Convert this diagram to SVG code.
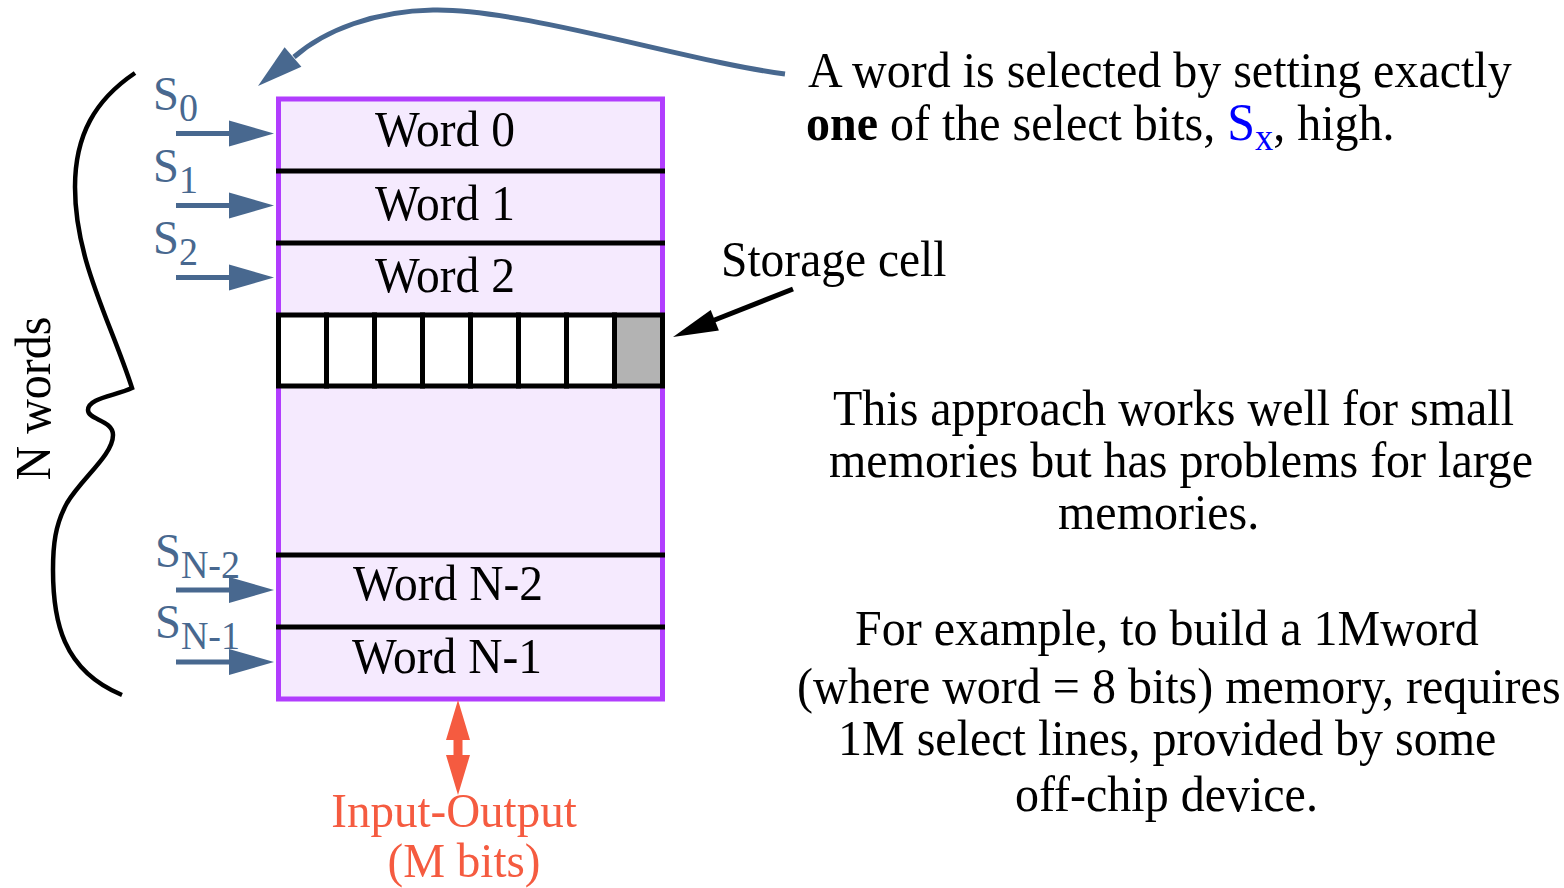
<svg xmlns="http://www.w3.org/2000/svg" width="1564" height="888" viewBox="0 0 1564 888">
  <style>
    text { font-family: "Liberation Serif", "Times New Roman", serif; font-size: 50px; fill: #000; }
    .sel { fill: #48688f; font-size: 49px; }
    .sub { font-size: 40px; }
    .io { fill: #f55b40; font-size: 49px; }
    .divider { stroke: #000; stroke-width: 5; }
    .cell { fill: #fff; stroke: #000; stroke-width: 5; }
    .wire { stroke: #48688f; stroke-width: 5; fill: none; }
    .head { fill: #48688f; }
  </style>

  <!-- curly brace grouping the N words -->
  <g id="brace">
    <path d="M135,73 C95,100 75,135 75,187 C75,260 110,320 132,388 C115,396 88,398 88,410 C88,420 113,420 113,435 C113,455 82,478 67,503 C55,525 53,545 53,570 C53,620 62,670 122,695" fill="none" stroke="#000" stroke-width="4.5"/>
    <text transform="translate(50,398.5) rotate(-90) scale(0.96 1)" text-anchor="middle">N words</text>
  </g>

  <!-- memory array -->
  <g id="memory">
    <rect x="278.5" y="99" width="384" height="600" fill="#f5eafe" stroke="#b13dfe" stroke-width="5"/>
    <line class="divider" x1="276" y1="171" x2="665" y2="171"/>
    <line class="divider" x1="276" y1="243" x2="665" y2="243"/>
    <line class="divider" x1="276" y1="555" x2="665" y2="555"/>
    <line class="divider" x1="276" y1="627" x2="665" y2="627"/>
  </g>

  <g id="word0"><text transform="translate(445,146) scale(0.95 1)" text-anchor="middle">Word 0</text></g>
  <g id="word1"><text transform="translate(445,220) scale(0.95 1)" text-anchor="middle">Word 1</text></g>
  <g id="word2"><text transform="translate(445,292) scale(0.95 1)" text-anchor="middle">Word 2</text></g>

  <!-- one word broken into its storage cells -->
  <g id="cells">
    <rect class="cell" x="278.5" y="315" width="48" height="71"/>
    <rect class="cell" x="326.5" y="315" width="48" height="71"/>
    <rect class="cell" x="374.5" y="315" width="48" height="71"/>
    <rect class="cell" x="422.5" y="315" width="48" height="71"/>
    <rect class="cell" x="470.5" y="315" width="48" height="71"/>
    <rect class="cell" x="518.5" y="315" width="48" height="71"/>
    <rect class="cell" x="566.5" y="315" width="48" height="71"/>
    <rect class="cell" x="614.5" y="315" width="48" height="71" style="fill:#b3b3b3"/>
  </g>

  <g id="wordN2"><text transform="translate(448,600) scale(0.95 1)" text-anchor="middle">Word N-2</text></g>
  <g id="wordN1"><text transform="translate(447,673) scale(0.95 1)" text-anchor="middle">Word N-1</text></g>

  <!-- select line labels -->
  <g id="select-labels">
    <text class="sel" transform="translate(153,110) scale(0.95 1)">S<tspan class="sub" dy="11">0</tspan></text>
    <text class="sel" transform="translate(153,182) scale(0.95 1)">S<tspan class="sub" dy="11">1</tspan></text>
    <text class="sel" transform="translate(153,254) scale(0.95 1)">S<tspan class="sub" dy="11">2</tspan></text>
    <text class="sel" transform="translate(155,567) scale(0.95 1)">S<tspan class="sub" dy="11">N-2</tspan></text>
    <text class="sel" transform="translate(155,638) scale(0.95 1)">S<tspan class="sub" dy="11">N-1</tspan></text>
  </g>

  <g id="storage-label">
    <text transform="translate(721,276) scale(0.95 1)">Storage cell</text>
  </g>

  <g id="io-label">
    <text class="io" transform="translate(454,827) scale(0.96 1)" text-anchor="middle">Input-Output</text>
    <text class="io" transform="translate(464,877) scale(0.96 1)" text-anchor="middle">(M bits)</text>
  </g>

  <g id="note-select">
    <text transform="translate(808,87) scale(0.96 1)">A word is selected by setting exactly</text>
    <text transform="translate(806,140) scale(0.96 1)"><tspan font-weight="bold">one</tspan> of the select bits, <tspan fill="#0000ff" font-size="52">S<tspan font-size="38" dy="10">x</tspan></tspan><tspan dy="-10">, high.</tspan></text>
  </g>

  <g id="note-scaling">
    <text transform="translate(833,425) scale(0.96 1)">This approach works well for small</text>
    <text transform="translate(829,477) scale(0.96 1)">memories but has problems for large</text>
    <text transform="translate(1058,529) scale(0.96 1)">memories.</text>
  </g>

  <g id="note-example">
    <text transform="translate(855,645) scale(0.96 1)">For example, to build a 1Mword</text>
    <text transform="translate(797,703) scale(0.96 1)">(where word = 8 bits) memory, requires</text>
    <text transform="translate(838,755) scale(0.96 1)">1M select lines, provided by some</text>
    <text transform="translate(1015,811) scale(0.96 1)">off-chip device.</text>
  </g>

  <!-- connectors -->
  <g id="connectors">
    <line class="wire" x1="176" y1="133.5" x2="232" y2="133.5"/>
    <polygon class="head" points="229,120.5 274,133.5 229,146.5"/>
    <line class="wire" x1="176" y1="205.5" x2="232" y2="205.5"/>
    <polygon class="head" points="229,192.5 274,205.5 229,218.5"/>
    <line class="wire" x1="176" y1="277.5" x2="232" y2="277.5"/>
    <polygon class="head" points="229,264.5 274,277.5 229,290.5"/>
    <line class="wire" x1="176" y1="590" x2="232" y2="590"/>
    <polygon class="head" points="229,577 274,590 229,603"/>
    <line class="wire" x1="176" y1="662" x2="232" y2="662"/>
    <polygon class="head" points="229,649 274,662 229,675"/>

    <path class="wire" d="M785,74 C690,62 520,8 433,10 C375,11 325,30 294,57" stroke-width="4.5"/>
    <polygon class="head" points="258,86 284.6,47.3 301.4,66.7"/>

    <line x1="793" y1="289" x2="712" y2="321" stroke="#000" stroke-width="5"/>
    <polygon points="673,337 710.7,310.1 718.9,330.5" fill="#000"/>

    <polygon class="io" points="458,700 470,740 462.5,740 462.5,755 470,755 458,795 446,755 453.5,755 453.5,740 446,740"/>
  </g>
</svg>
